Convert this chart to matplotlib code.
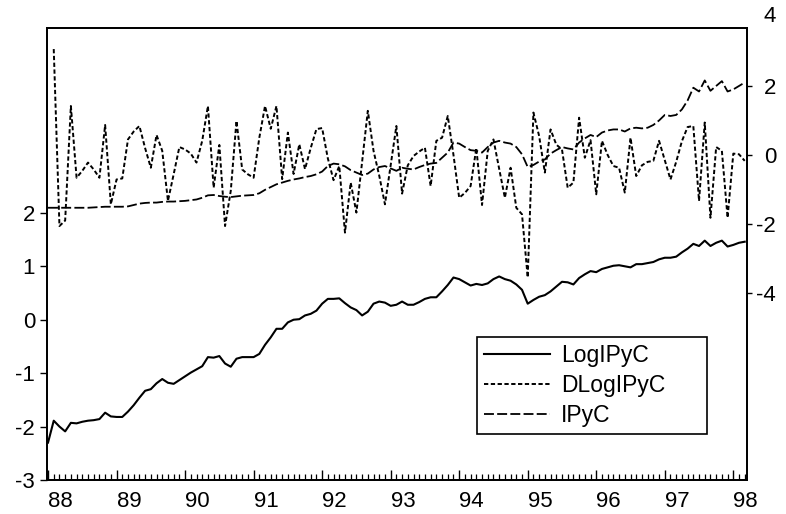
"""
LogIPyC / DLogIPyC / IPyC, monthly 1988-1998, dual scale (EViews style)
"""

import numpy as np
import matplotlib.pyplot as plt
import matplotlib.transforms as mtransforms
from matplotlib.ticker import MultipleLocator

plt.rcParams['font.family'] = ['Liberation Sans', 'DejaVu Sans']
plt.rcParams['axes.unicode_minus'] = False

# monthly values starting 1988:01
log_ipyc = [
    -2.30, -1.89, -2.00, -2.09, -1.93, -1.94, -1.91, -1.89, -1.88, -1.86,
    -1.74, -1.81, -1.82, -1.82, -1.72, -1.60, -1.46, -1.33, -1.30, -1.19,
    -1.11, -1.18, -1.20, -1.13, -1.06, -0.99, -0.93, -0.87, -0.70, -0.71,
    -0.68, -0.82, -0.88, -0.73, -0.70, -0.70, -0.70, -0.64, -0.47, -0.33,
    -0.17, -0.17, -0.05, 0.00, 0.01, 0.08, 0.11, 0.17, 0.30, 0.39,
    0.39, 0.40, 0.31, 0.23, 0.18, 0.08, 0.15, 0.30, 0.34, 0.32,
    0.26, 0.28, 0.34, 0.28, 0.28, 0.33, 0.39, 0.42, 0.42, 0.53,
    0.65, 0.79, 0.76, 0.70, 0.64, 0.67, 0.65, 0.68, 0.76, 0.81,
    0.76, 0.73, 0.66, 0.56, 0.30, 0.37, 0.43, 0.46, 0.53, 0.62,
    0.71, 0.70, 0.66, 0.78, 0.85, 0.91, 0.89, 0.95, 0.98, 1.01,
    1.02, 1.00, 0.98, 1.04, 1.04, 1.06, 1.08, 1.13, 1.16, 1.16,
    1.18, 1.26, 1.33, 1.42, 1.38, 1.48, 1.38, 1.44, 1.48, 1.37,
    1.40, 1.44, 1.46,
]

dlog_ipyc = [
    np.nan, 3.07, -2.06, -1.90, 1.42, -0.66, -0.46, -0.22, -0.42, -0.66,
    0.87, -1.43, -0.71, -0.68, 0.45, 0.68, 0.84, 0.20, -0.37, 0.58,
    0.12, -1.33, -0.56, 0.23, 0.16, 0.04, -0.22, 0.41, 1.42, -0.95,
    0.29, -2.06, -1.04, 0.99, -0.42, -0.56, -0.66, 0.50, 1.42, 0.76,
    1.42, -0.70, 0.65, -0.55, 0.31, -0.41, 0.20, 0.75, 0.78, -0.10,
    -0.73, -0.32, -2.25, -0.80, -1.67, -0.20, 1.28, 0.12, -0.60, -1.43,
    -0.30, 0.84, -1.12, -0.30, -0.03, 0.10, 0.21, -0.90, 0.41, 0.50,
    1.13, 0.00, -1.24, -1.10, -0.90, 0.20, -1.45, 0.12, 0.45, -0.40,
    -1.24, -0.37, -1.53, -1.72, -3.55, 1.23, 0.55, -0.51, 0.74, 0.30,
    0.16, -0.95, -0.80, 1.08, -0.08, 0.43, -1.14, 0.41, 0.00, -0.32,
    -0.37, -1.09, 0.50, -0.61, -0.30, -0.20, -0.17, 0.41, -0.15, -0.71,
    -0.20, 0.40, 0.81, 0.84, -1.33, 0.94, -1.82, 0.23, 0.12, -1.82,
    0.04, 0.02, -0.17,
]

ipyc = [
    -1.53, -1.53, -1.53, -1.53, -1.53, -1.53, -1.53, -1.53, -1.52, -1.51,
    -1.50, -1.50, -1.50, -1.50, -1.49, -1.45, -1.41, -1.39, -1.38, -1.38,
    -1.36, -1.35, -1.35, -1.34, -1.33, -1.31, -1.29, -1.24, -1.17, -1.16,
    -1.19, -1.21, -1.22, -1.20, -1.18, -1.17, -1.16, -1.11, -1.01, -0.93,
    -0.85, -0.80, -0.75, -0.71, -0.68, -0.64, -0.61, -0.56, -0.48, -0.32,
    -0.25, -0.27, -0.33, -0.44, -0.51, -0.58, -0.54, -0.42, -0.35, -0.32,
    -0.39, -0.46, -0.37, -0.40, -0.42, -0.35, -0.29, -0.25, -0.23, -0.08,
    0.07, 0.36, 0.33, 0.23, 0.14, 0.12, 0.07, 0.23, 0.36, 0.41,
    0.36, 0.33, 0.23, 0.02, -0.35, -0.29, -0.19, -0.13, 0.04, 0.14,
    0.23, 0.19, 0.16, 0.36, 0.48, 0.58, 0.52, 0.65, 0.71, 0.74,
    0.74, 0.68, 0.77, 0.79, 0.77, 0.79, 0.87, 1.00, 1.16, 1.13,
    1.16, 1.32, 1.58, 1.95, 1.84, 2.16, 1.86, 2.00, 2.14, 1.84,
    1.90, 2.00, 2.10,
]

year_labels = ['88', '89', '90', '91', '92', '93', '94', '95', '96', '97', '98']
left_ticks = [-3, -2, -1, 0, 1, 2]
right_ticks = [-4, -2, 0, 2, 4]

months = np.arange(len(log_ipyc))
year_ticks = np.arange(len(year_labels)) * 12

fig = plt.figure(figsize=(7.86, 5.14), dpi=100)
ax = fig.add_axes([47 / 786, 34 / 514, 700 / 786, 452 / 514])
ax2 = ax.twinx()

l1, = ax.plot(months, log_ipyc, color='black', lw=1.5, label='LogIPyC')
l2, = ax2.plot(months, dlog_ipyc, color='black', lw=1.4, dashes=(2.2, 1.3),
               label='DLogIPyC')
l3, = ax2.plot(months, ipyc, color='black', lw=1.3, dashes=(5.5, 1.8),
               label='IPyC')

ax.set_xlim(-0.18, 122.4)
ax.set_ylim(-3, 5.46)
ax2.set_ylim(-9.42, 3.68)

# x axis: year labels left-aligned at January, monthly ticks inside
ax.set_xticks(year_ticks)
ax.set_xticklabels(year_labels, ha='left')
ax.xaxis.set_minor_locator(MultipleLocator(1))
ax.tick_params(axis='x', which='major', direction='in', length=7, width=1,
               pad=8, labelsize=16)
ax.tick_params(axis='x', which='minor', direction='in', length=4, width=0.9)

ax.set_yticks(left_ticks)
ax.tick_params(axis='y', direction='out', length=5, width=1, pad=3.6,
               labelsize=16)

# right labels are right-aligned in the original
ax2.set_yticks([t for t in right_ticks if t < 3.68])
ax2.tick_params(axis='y', direction='out', length=3.6, width=1, pad=17.3,
                labelsize=16)
for lab in ax2.get_yticklabels():
    lab.set_horizontalalignment('right')

# the top label sits just above the frame
trans = mtransforms.blended_transform_factory(ax2.transAxes, ax2.transData)
ax2.text(1.0414, right_ticks[-1], str(right_ticks[-1]), transform=trans,
         ha='right', va='center', fontsize=16, clip_on=False)

for a in (ax, ax2):
    for s in a.spines.values():
        s.set_linewidth(1.3)

leg = ax2.legend(handles=[l1, l2, l3], loc='upper left',
                 bbox_to_anchor=(0.614, 0.0, 0.3286, 0.316), mode='expand',
                 borderaxespad=0, fontsize=16.5, handlelength=2.9,
                 handletextpad=0.48, labelspacing=0.3, borderpad=0.3,
                 fancybox=False, framealpha=1, edgecolor='black')
leg.get_frame().set_linewidth(1.2)

plt.savefig('out.png', dpi=100)
plt.close()
